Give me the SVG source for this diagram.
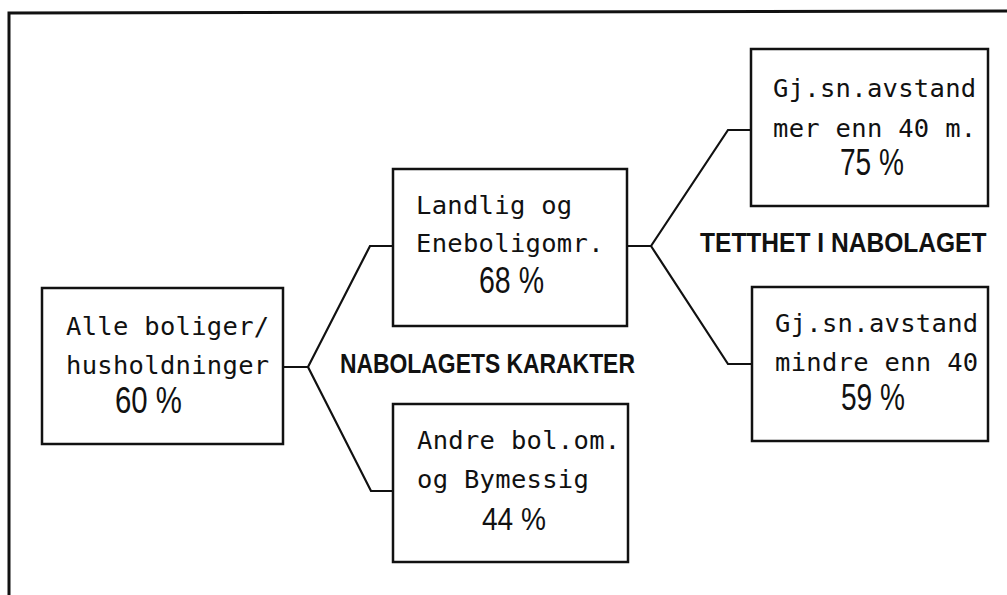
<svg xmlns="http://www.w3.org/2000/svg" width="1007" height="595" viewBox="0 0 1007 595">
<style>
.box{fill:#fff;stroke:#111;stroke-width:2.5}
.ln{fill:none;stroke:#111;stroke-width:2.2;stroke-linejoin:miter}
.t{font-family:"DejaVu Sans Mono","Liberation Mono",monospace;font-size:25.5px;letter-spacing:0.3px;fill:#111}
.p{font-family:"Liberation Sans",Arial,sans-serif;font-size:37px;fill:#111}
.h{font-family:"Liberation Sans",Arial,sans-serif;font-weight:bold;font-size:27px;fill:#111}
</style>
<rect width="1007" height="595" fill="#fff"/>
<path d="M9,597 L9,13 L1008,11" fill="none" stroke="#111" stroke-width="3"/>
<g id="connectors">
<path class="ln" d="M283,367 H308 L370,246 H393"/>
<path class="ln" d="M308,367 L371,491 H393"/>
<path class="ln" d="M627,246 H651 L728,130 H751"/>
<path class="ln" d="M651,246 L728,364 H752"/>
</g>
<g id="label-nabolag"><text class="h" transform="translate(340,373) scale(0.848,1)">NABOLAGETS KARAKTER</text></g>
<g id="label-tetthet"><text class="h" transform="translate(700,252) scale(0.91,1)">TETTHET I NABOLAGET</text></g>
<g id="node-alle">
<rect class="box" x="42" y="288" width="241" height="156"/>
<text class="t" x="66" y="335">Alle boliger/</text>
<text class="t" x="66" y="374">husholdninger</text>
<text class="p" x="115" y="413" textLength="67" lengthAdjust="spacingAndGlyphs">60 %</text>
</g>
<g id="node-landlig">
<rect class="box" x="393" y="169" width="234" height="157"/>
<text class="t" x="416" y="214">Landlig og</text>
<text class="t" x="416" y="252">Eneboligomr.</text>
<text class="p" x="479" y="293" textLength="65" lengthAdjust="spacingAndGlyphs">68 %</text>
</g>
<g id="node-andre">
<rect class="box" x="393" y="404" width="235" height="158"/>
<text class="t" x="417" y="449">Andre bol.om.</text>
<text class="t" x="417" y="488">og Bymessig</text>
<text class="p" style="font-size:31px" x="482" y="530" textLength="64" lengthAdjust="spacingAndGlyphs">44 %</text>
</g>
<g id="node-mer">
<rect class="box" x="751" y="49" width="237" height="157"/>
<text class="t" x="773" y="97">Gj.sn.avstand</text>
<text class="t" x="773" y="137">mer enn 40 m.</text>
<text class="p" x="840" y="175" textLength="64" lengthAdjust="spacingAndGlyphs">75 %</text>
</g>
<g id="node-mindre">
<rect class="box" x="752" y="287" width="236" height="154"/>
<text class="t" x="775" y="332">Gj.sn.avstand</text>
<text class="t" x="775" y="371">mindre enn 40</text>
<text class="p" x="841" y="410" textLength="64" lengthAdjust="spacingAndGlyphs">59 %</text>
</g>
</svg>
